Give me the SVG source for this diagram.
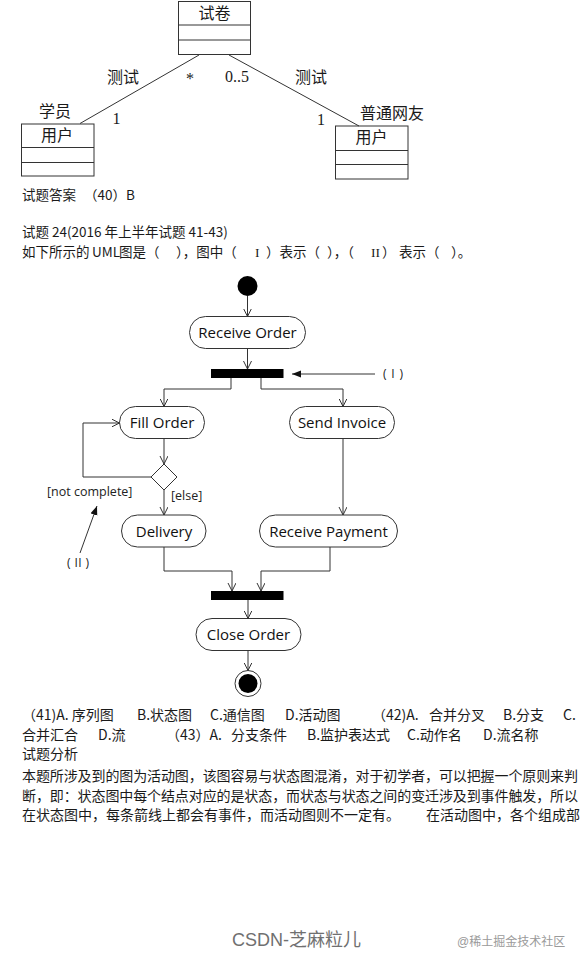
<svg xmlns="http://www.w3.org/2000/svg" width="586" height="970" viewBox="0 0 586 970">
<style>
.bg{fill:#ffffff}
.box{fill:#ffffff;stroke:#333;stroke-width:1}
.ln{fill:none;stroke:#333;stroke-width:1}
.uml{font-family:"Liberation Serif","Noto Sans CJK SC",serif;font-size:16px;fill:#1a1a1a}
.txt{font-family:"Noto Sans CJK SC","Liberation Sans",sans-serif;font-size:13.5px;fill:#1a1a1a}
.rom{font-family:"Liberation Serif","Noto Sans CJK SC",serif}
.par{font-family:"Noto Sans CJK SC","Liberation Sans",sans-serif;font-size:14px;fill:#1a1a1a}
.act{fill:#ffffff;stroke:#333;stroke-width:1}
.lbl{font-family:"Open Sans","DejaVu Sans",sans-serif;font-size:15px;fill:#111;text-anchor:middle}
.grd{font-family:"Open Sans","DejaVu Sans",sans-serif;font-size:12.5px;fill:#222}
.note{font-family:"Open Sans","DejaVu Sans",sans-serif;font-size:12px;fill:#222}
.wm{font-family:"Liberation Sans","Noto Sans CJK SC",sans-serif;font-size:18px;fill:#707070}
.wm2{font-family:"Liberation Sans","Noto Sans CJK SC",sans-serif;font-size:12px;fill:#9a9a9a}
</style>
<defs>
<marker id="open" markerUnits="userSpaceOnUse" markerWidth="10" markerHeight="10" refX="8" refY="4" orient="auto">
<path d="M0,0 L8,4 L0,8" fill="none" stroke="#333" stroke-width="1"/>
</marker>
<marker id="solid" markerUnits="userSpaceOnUse" markerWidth="10" markerHeight="10" refX="9" refY="3.5" orient="auto">
<path d="M0,0 L9,3.5 L0,7 z" fill="#111"/>
</marker>
</defs>
<rect class="bg" x="0" y="0" width="586" height="970"/>

<!-- UML class diagram -->
<g id="class-shijuan">
<rect class="box" x="178.5" y="1.5" width="72" height="53"/>
<line class="ln" x1="178.5" y1="25" x2="250.5" y2="25"/>
<line class="ln" x1="178.5" y1="40" x2="250.5" y2="40"/>
<text class="uml" x="214.5" y="19" text-anchor="middle">试卷</text>
</g>
<g id="class-user-left">
<rect class="box" x="21.5" y="124" width="72.5" height="52"/>
<line class="ln" x1="21.5" y1="147.5" x2="94" y2="147.5"/>
<line class="ln" x1="21.5" y1="162.5" x2="94" y2="162.5"/>
<text class="uml" x="57" y="141" text-anchor="middle">用户</text>
</g>
<g id="class-user-right">
<rect class="box" x="335.5" y="126" width="72.5" height="53"/>
<line class="ln" x1="335.5" y1="150.5" x2="408" y2="150.5"/>
<line class="ln" x1="335.5" y1="164.5" x2="408" y2="164.5"/>
<text class="uml" x="371.5" y="143" text-anchor="middle">用户</text>
</g>
<g id="uml-connectors">
<line class="ln" x1="199" y1="55" x2="80" y2="123.5"/>
<line class="ln" x1="229" y1="55" x2="359" y2="126"/>
</g>
<g id="uml-labels">
<text class="uml" x="107" y="83">测试</text>
<text class="uml" x="295" y="83">测试</text>
<text class="uml" x="190" y="84" text-anchor="middle">*</text>
<text class="uml" x="225" y="82">0..5</text>
<text class="uml" x="39" y="117">学员</text>
<text class="uml" x="116.5" y="123.5" text-anchor="middle">1</text>
<text class="uml" x="321" y="124.5" text-anchor="middle">1</text>
<text class="uml" x="360" y="119">普通网友</text>
</g>

<!-- question text -->
<text class="txt" x="22" y="200">试题答案<tspan x="84">（40）B</tspan></text>
<text class="txt" x="22" y="237">试题 24(2016 年上半年试题 41-43)</text>
<text class="txt" y="257"><tspan x="22">如下所示的</tspan><tspan x="92">UML</tspan><tspan x="119">图是（</tspan><tspan x="176">），图中（</tspan><tspan x="255" class="rom">I</tspan><tspan x="266">）表示（</tspan><tspan x="327">），（</tspan><tspan x="371" class="rom">II</tspan><tspan x="382">）</tspan><tspan x="399">表示（</tspan><tspan x="451">）。</tspan></text>

<!-- activity diagram nodes -->
<g id="start"><circle cx="247.5" cy="286" r="10" fill="#000"/></g>
<g id="receive-order">
<rect class="act" x="189.5" y="316.5" width="116" height="32" rx="16"/>
<text class="lbl" x="247.5" y="338">Receive Order</text>
</g>
<g id="fork"><rect x="211" y="369" width="72.5" height="9" fill="#000"/></g>
<g id="fill-order">
<rect class="act" x="119.5" y="406.5" width="85" height="32" rx="16"/>
<text class="lbl" x="162" y="427.5">Fill Order</text>
</g>
<g id="send-invoice">
<rect class="act" x="289.5" y="406.5" width="105" height="32" rx="16"/>
<text class="lbl" x="342" y="427.5">Send Invoice</text>
</g>
<g id="decision"><polygon class="act" points="164,464 177,477 164,490 151,477"/></g>
<g id="delivery">
<rect class="act" x="121.5" y="515" width="84.5" height="32" rx="16"/>
<text class="lbl" x="164" y="536.5">Delivery</text>
</g>
<g id="receive-payment">
<rect class="act" x="259.5" y="515" width="138" height="32" rx="16"/>
<text class="lbl" x="328.5" y="536.5">Receive Payment</text>
</g>
<g id="join"><rect x="211" y="591" width="72.5" height="9" fill="#000"/></g>
<g id="close-order">
<rect class="act" x="196" y="618.5" width="105" height="32" rx="16"/>
<text class="lbl" x="248.5" y="640">Close Order</text>
</g>
<g id="end">
<circle cx="248" cy="683.5" r="13" fill="#fff" stroke="#333" stroke-width="1"/>
<circle cx="248" cy="683.5" r="9.5" fill="#000"/>
</g>

<!-- activity connectors -->
<g id="connectors">
<path class="ln" d="M247.5,296 V316.5" marker-end="url(#open)"/>
<path class="ln" d="M247.5,348.5 V369" marker-end="url(#open)"/>
<path class="ln" d="M231,378 V389 H164 V406.5" marker-end="url(#open)"/>
<path class="ln" d="M261,378 V389 H343 V406.5" marker-end="url(#open)"/>
<path class="ln" d="M164,438.5 V464" marker-end="url(#open)"/>
<path class="ln" d="M151,477 H83 V423 H119.5" marker-end="url(#open)"/>
<path class="ln" d="M164,490 V515" marker-end="url(#open)"/>
<path class="ln" d="M343,438.5 V515" marker-end="url(#open)"/>
<path class="ln" d="M164,547 V571 H232 V591" marker-end="url(#open)"/>
<path class="ln" d="M330,547 V571 H261 V591" marker-end="url(#open)"/>
<path class="ln" d="M248,600 V618.5" marker-end="url(#open)"/>
<path class="ln" d="M248,650.5 V670.5" marker-end="url(#open)"/>
<path class="ln" d="M375,374 H292" marker-end="url(#solid)"/>
<path class="ln" d="M80,553 L97,506" marker-end="url(#solid)"/>
</g>
<g id="activity-labels">
<text class="grd" x="47" y="496">[not complete]</text>
<text class="grd" x="171" y="500">[else]</text>
<text class="note" x="383" y="378" textLength="20">( I )</text>
<text class="note" x="67" y="567" textLength="22">( II )</text>
</g>

<!-- options and analysis -->
<text class="par" y="720"><tspan x="22">（41)A. 序列图</tspan><tspan x="137">B.状态图</tspan><tspan x="210">C.通信图</tspan><tspan x="285">D.活动图</tspan><tspan x="372">（42)A.</tspan><tspan x="429">合并分叉</tspan><tspan x="503">B.分支</tspan><tspan x="563">C.</tspan></text>
<text class="par" y="740"><tspan x="22">合并汇合</tspan><tspan x="98">D.流</tspan><tspan x="166">（43）A.</tspan><tspan x="231">分支条件</tspan><tspan x="307">B.监护表达式</tspan><tspan x="407">C.动作名</tspan><tspan x="483">D.流名称</tspan></text>
<text class="par" x="22" y="759">试题分析</text>
<text class="par" x="22" y="781" textLength="556">本题所涉及到的图为活动图，该图容易与状态图混淆，对于初学者，可以把握一个原则来判</text>
<text class="par" x="22" y="801" textLength="556">断，即：状态图中每个结点对应的是状态，而状态与状态之间的变迁涉及到事件触发，所以</text>
<text class="par" y="820"><tspan x="22">在状态图中，每条箭线上都会有事件，而活动图则不一定有。</tspan><tspan x="426">在活动图中，各个组成部</tspan></text>

<!-- watermarks -->
<text class="wm" x="232" y="946">CSDN-芝麻粒儿</text>
<text class="wm2" x="457" y="946">@稀土掘金技术社区</text>
</svg>
